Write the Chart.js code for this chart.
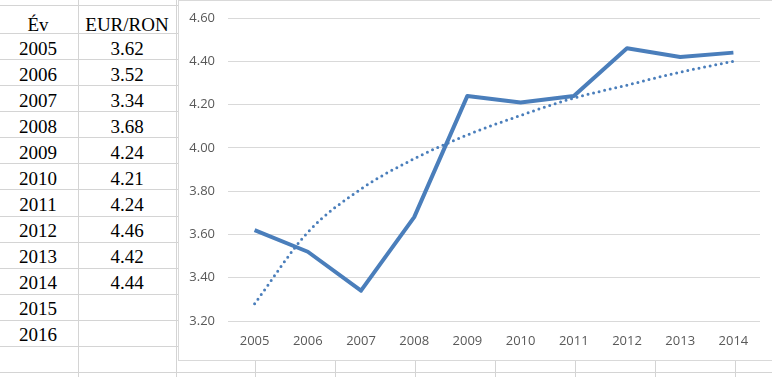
<!DOCTYPE html>
<html>
<head>
<meta charset="utf-8">
<script src="https://cdn.jsdelivr.net/npm/chart.js@4.4.1/dist/chart.umd.min.js"></script>
<style>
  body { margin: 0; background: #fff; overflow: hidden; }
  #sheet { position: absolute; left: 0; top: 0; width: 772px; height: 377px; }
  .hl { position: absolute; left: 0; width: 772px; height: 1px; background: #d4d4d4; }
  .vl { position: absolute; top: 0; width: 1px; height: 377px; background: #d4d4d4; }
  .cell { position: absolute; font-family: "Liberation Serif", serif; font-size: 19px; line-height: 19px; color: #000; text-align: center; white-space: nowrap; }
  #box { position: absolute; left: 178px; top: 0; width: 600px; height: 359px; border: 1px solid #d9d9d9; background: #fff; }
</style>
</head>
<body>
<div id="sheet"></div>
<div id="box"><canvas id="rate-chart" width="600" height="359"></canvas></div>
<script>
// table + chart data
var headers = ['Év', 'EUR/RON'];
var tableYears = ['2005', '2006', '2007', '2008', '2009', '2010', '2011', '2012', '2013', '2014', '2015', '2016'];
var years = ['2005', '2006', '2007', '2008', '2009', '2010', '2011', '2012', '2013', '2014'];
var rates = [3.62, 3.52, 3.34, 3.68, 4.24, 4.21, 4.24, 4.46, 4.42, 4.44];
// dotted trend line
var trend = [3.28, 3.61, 3.81, 3.95, 4.06, 4.15, 4.23, 4.29, 4.35, 4.40];
var yMin = 3.2, yMax = 4.6, yStep = 0.2;

// spreadsheet grid behind everything
var sheet = document.getElementById('sheet');
var colLines = [78, 176, 255, 335, 415, 495, 575, 655, 735];
for (var c = 0; c < colLines.length; c++) {
  var v = document.createElement('div');
  v.className = 'vl';
  v.style.left = colLines[c] + 'px';
  sheet.appendChild(v);
}
var rowLines = [5];
for (var r = 0; r < 14; r++) rowLines.push(Math.round(33 + 26.08 * r));
for (var r = 0; r < rowLines.length; r++) {
  var h = document.createElement('div');
  h.className = 'hl';
  h.style.top = rowLines[r] + 'px';
  sheet.appendChild(h);
}

// cell text, placed by baseline
function addCell(text, left, width, baseline) {
  var d = document.createElement('div');
  d.className = 'cell';
  d.textContent = text;
  d.style.left = left + 'px';
  d.style.width = width + 'px';
  d.style.top = (baseline - 16) + 'px';
  sheet.appendChild(d);
}
addCell(headers[0], 0, 76, 30.5);
addCell(headers[1], 78, 98, 30.5);
for (var i = 0; i < tableYears.length; i++) {
  addCell(tableYears[i], 0, 76, 55 + 26 * i);
  if (i < rates.length) addCell(rates[i].toFixed(2), 78, 98, 55 + 26 * i);
}

//excel style line chart
var tickFont = { family: 'Open Sans', size: 13 };
var ctx = document.getElementById('rate-chart');
var lineChart = new Chart(ctx, {
  type: 'line',
  data: {
    labels: years,
    datasets: [
      {
        label: 'EUR/RON',
        data: rates,
        borderColor: '#4a7ebb',
        borderWidth: 4,
        borderJoinStyle: 'round',
        pointRadius: 0,
        tension: 0,
        order: 1
      },
      {
        label: 'trend',
        data: trend,
        borderColor: '#4a7ebb',
        borderWidth: 3,
        borderDash: [0, 5.7],
        borderCapStyle: 'round',
        pointRadius: 0,
        cubicInterpolationMode: 'monotone',
        order: 2
      }
    ]
  },
  options: {
    responsive: false,
    animation: false,
    devicePixelRatio: 1,
    layout: { padding: { top: 17, right: 19, left: 0, bottom: 0 } },
    plugins: { legend: { display: false }, tooltip: { enabled: false } },
    scales: {
      x: {
        offset: true,
        grid: { display: false },
        border: { display: false },
        ticks: { font: tickFont, color: '#595959', padding: 4, maxRotation: 0 },
        afterFit: function (scale) { scale.height = 39; }
      },
      y: {
        min: yMin,
        max: yMax,
        grid: { color: '#d9d9d9', drawTicks: false, tickLength: 0 },
        border: { display: false },
        ticks: {
          stepSize: yStep,
          font: tickFont,
          color: '#595959',
          padding: 13,
          callback: function (value) { return Number(value).toFixed(2); }
        },
        afterFit: function (scale) {
          scale.width = 49;
          // tick padding should not push the plot down
          scale.paddingTop = 0;
          scale.paddingBottom = 0;
        }
      }
    }
  }
});
</script>
</body>
</html>
